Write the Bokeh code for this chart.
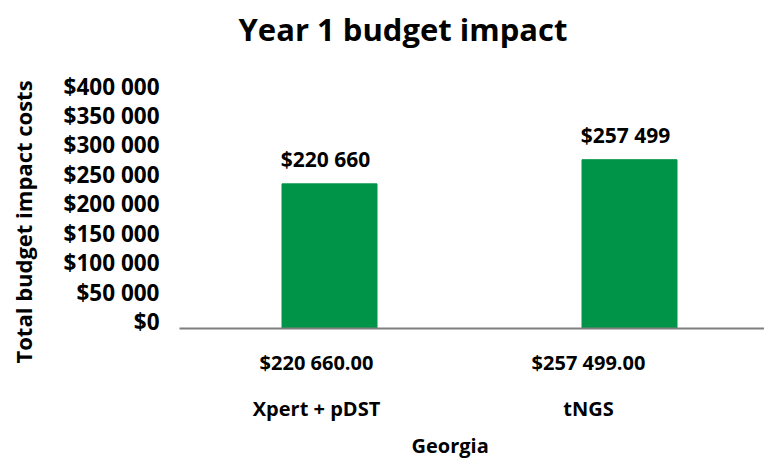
from bokeh.plotting import figure
from bokeh.models import Range1d, LinearAxis, FixedTicker, Title
from bokeh.core.properties import value
from bokeh.embed import file_html
from bokeh.resources import INLINE

# ---------------- data ----------------
title_text = "Year 1 budget impact"
region = "Georgia"
y_title = "Total budget impact costs"
categories = ["Xpert + pDST", "tNGS"]
costs = [220660, 257499]
bar_labels = ["$220 660", "$257 499"]
table_labels = ["$220 660.00", "$257 499.00"]
y_ticks = [0, 50000, 100000, 150000, 200000, 250000, 300000, 350000, 400000]
y_tick_labels = ["$0", "$50 000", "$100 000", "$150 000", "$200 000",
                 "$250 000", "$300 000", "$350 000", "$400 000"]

# ---------------- layout ----------------
FONT = "Open Sans"
W, H = 764, 463
FL, FT = 179, 75           # frame left / top (figure px)
FW, FH = W - FL, 253       # frame width / height
FB = H - FT - FH           # bottom border

Y_END = 386000             # main y scale (bars)
X_PX = 300.0               # px per category (bars)
LX_PX = 272.0              # px per category (label rows)
LX_START = 0.5 - 137.0 / LX_PX
LY_PX = 235.5 / 400000.0   # px per unit of tick-label scale
LY_START = -7.0 / LY_PX
LY_END = LY_START + FH / LY_PX

xs = [i + 0.5 for i in range(len(categories))]

p = figure(width=W, height=H, output_backend="svg", toolbar_location=None,
           title=None,
           x_range=Range1d(0, FW / X_PX), y_range=Range1d(0, Y_END),
           x_axis_location=None, y_axis_location=None,
           min_border_left=FL, min_border_right=0,
           min_border_top=FT, min_border_bottom=FB)
p.extra_x_ranges = {"lab": Range1d(LX_START, LX_START + FW / LX_PX)}
p.extra_y_ranges = {"lab": Range1d(LY_START, LY_END)}
p.outline_line_color = None
p.grid.visible = False
p.background_fill_color = "white"
p.border_fill_color = "white"

# left axis (tick labels)
ya = LinearAxis(y_range_name="lab", ticker=FixedTicker(ticks=y_ticks),
                major_label_overrides=dict(zip(y_ticks, y_tick_labels)))
ya.axis_line_color = None
ya.major_tick_line_color = None
ya.minor_tick_line_color = None
ya.major_tick_out = 0
ya.major_label_standoff = 20
ya.major_label_text_font = FONT
ya.major_label_text_font_style = "bold"
ya.major_label_text_font_size = "22.5px"
ya.major_label_text_color = "black"
p.add_layout(ya, "left")

# bottom axis 1 (table values) with the baseline
xa1 = LinearAxis(x_range_name="lab", ticker=FixedTicker(ticks=xs),
                 major_label_overrides=dict(zip(xs, table_labels)))
xa1.axis_line_color = "#7f7f7f"
xa1.axis_line_width = 2
xa1.major_tick_line_color = None
xa1.minor_tick_line_color = None
xa1.major_tick_out = 0
xa1.major_label_standoff = 20
xa1.major_label_text_font = FONT
xa1.major_label_text_font_style = "bold"
xa1.major_label_text_font_size = "20px"
xa1.major_label_text_color = "black"
p.add_layout(xa1, "below")

# bottom axis 2 (category names)
xa2 = LinearAxis(x_range_name="lab", ticker=FixedTicker(ticks=xs),
                 major_label_overrides=dict(zip(xs, categories)))
xa2.axis_line_color = None
xa2.major_tick_line_color = None
xa2.minor_tick_line_color = None
xa2.major_tick_out = 0
xa2.major_label_standoff = 16
xa2.major_label_text_font = FONT
xa2.major_label_text_font_style = "bold"
xa2.major_label_text_font_size = "20px"
xa2.major_label_text_color = "black"
p.add_layout(xa2, "below")

# spacers (blank titles) so that the real titles sit further out
p.add_layout(Title(text=" ", text_font_size="10px", standoff=8), "above")
p.add_layout(Title(text=" ", text_font_size="10px", standoff=2), "left")

# chart title
p.add_layout(Title(text=title_text, align="left", offset=59, vertical_align="top",
                   text_font=FONT, text_font_style="bold", text_font_size="31px",
                   text_color="black", standoff=6), "above")

# axis titles
p.add_layout(Title(text=y_title, align="left", offset=-35, vertical_align="top",
                   text_font=FONT, text_font_style="bold", text_font_size="22px",
                   text_color="black", standoff=11), "left")
p.add_layout(Title(text=region, align="left", offset=232, vertical_align="bottom",
                   text_font=FONT, text_font_style="bold", text_font_size="20px",
                   text_color="black", standoff=10), "below")

# bars
p.vbar(x=xs, top=costs, width=95 / X_PX, color="#009448")
p.text(x=xs, y=costs, text=bar_labels, text_align="center",
       text_baseline="alphabetic", y_offset=-25, x_offset=-4,
       text_font=value(FONT), text_font_style="bold",
       text_font_size="21px", text_color="black")

open("out.html", "w").write(file_html(p, INLINE))
